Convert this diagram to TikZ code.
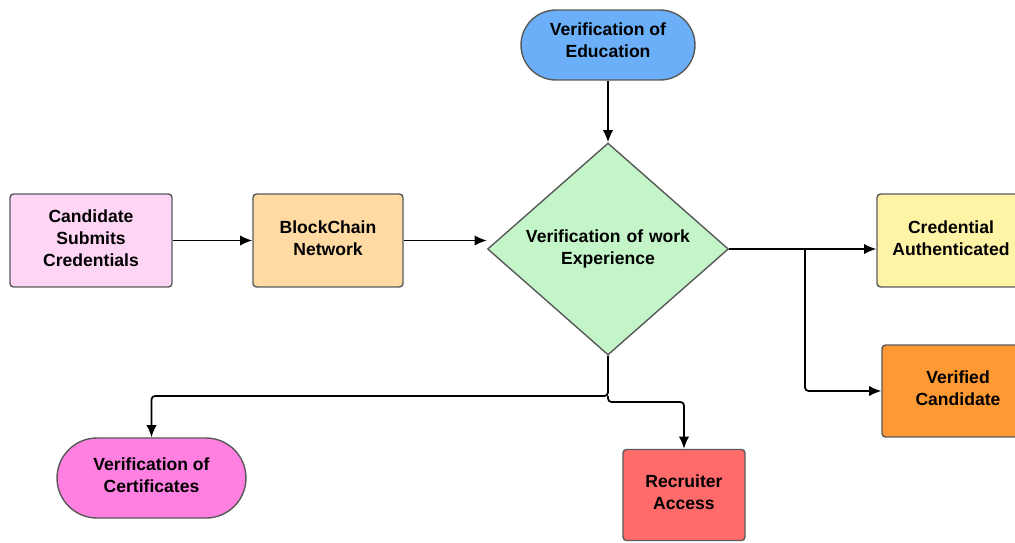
\documentclass[tikz,border=0pt]{standalone}
\usepackage{fontspec}
\setmainfont{Liberation Sans}
\usetikzlibrary{shapes.geometric,arrows.meta}

\definecolor{edublue}{HTML}{6AAFF8}
\definecolor{workgreen}{HTML}{C3F5C9}
\definecolor{candpink}{HTML}{FFD5F5}
\definecolor{chainorange}{HTML}{FFDBA3}
\definecolor{credyellow}{HTML}{FFF4A6}
\definecolor{verorange}{HTML}{FF9933}
\definecolor{certpink}{HTML}{FF80E1}
\definecolor{recrred}{HTML}{FF6B6B}

\begin{document}
\begin{tikzpicture}[
  x=0.02cm, y=-0.02cm,
  every node/.style={font=\fontsize{10}{12.5}\selectfont\bfseries, align=center, draw=black!65, line width=0.8pt},
  box/.style={rectangle, rounded corners=2pt, minimum width=#1, minimum height=1.86cm, inner sep=2pt, text depth=3pt},
  pill/.style={rectangle, rounded corners=0.8cm, minimum height=1.5cm, text depth=3pt},
  link/.style={draw=black, line width=1pt, rounded corners=2pt, -{Latex[length=7pt,width=6pt]}},
]
\path[use as bounding box, clip] (0,0) rectangle (1015,542);

\node[pill, fill=edublue, minimum width=3.48cm, minimum height=1.4cm, rounded corners=0.7cm, text depth=5pt] (edu) at (608,45) {Verification of\\Education};
\node[diamond, aspect=1.137, inner sep=0pt, minimum width=4.82cm, minimum height=4.24cm, fill=workgreen, text width=3.9cm] (exp) at (608,249) {Verification of work\\Experience};
\node[box=3.24cm, fill=candpink] (cand) at (91,240.5) {Candidate\\Submits\\Credentials};
\node[box=3.0cm, fill=chainorange] (chain) at (328,240.5) {BlockChain\\Network};
\node[box=2.96cm, fill=credyellow] (cred) at (951,240.5) {Credential\\Authenticated};
\node[box=3.04cm, fill=verorange, minimum height=1.84cm] (ver) at (958,391) {Verified\\Candidate};
\node[pill, fill=certpink, minimum width=3.78cm, minimum height=1.6cm] (cert) at (151.5,478) {Verification of\\Certificates};
\node[box=2.44cm, fill=recrred, minimum height=1.82cm] (recr) at (684,495) {Recruiter\\Access};

\coordinate (fork) at (805,248);
\coordinate (dropL) at (608,396);
\coordinate (dropR) at (608,402);

\draw[link] (edu) -- (exp.north);
\draw[link] (cand) -- (chain);
\draw[link] (chain.east) -- (chain.east -| exp.west);
\draw[link] (exp.east) -- (exp.east -| cred.west);
\draw[link] (fork) |- (ver.west);
\draw[link] (exp.south) -- (dropL) -| (cert.north);
\draw[link] (dropL) -- (dropR) -| (recr.north);
\end{tikzpicture}
\end{document}
